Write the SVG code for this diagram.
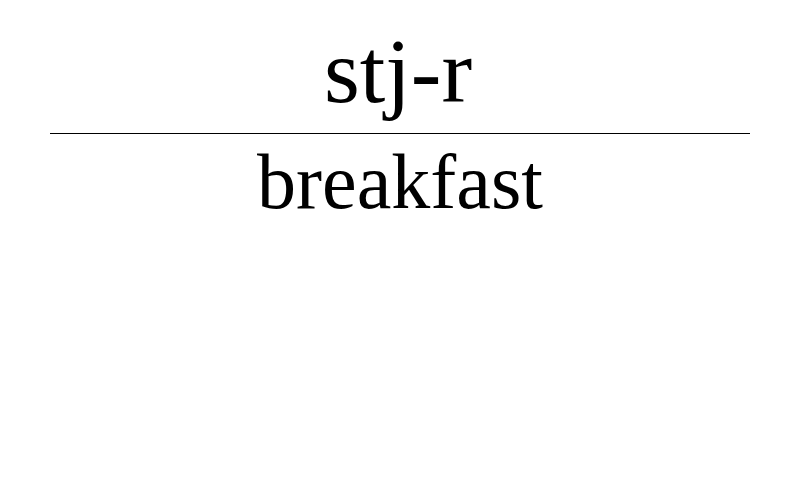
<svg xmlns="http://www.w3.org/2000/svg" width="800" height="500" viewBox="0 0 800 500">
<style>
.t{font-family:"Liberation Serif","DejaVu Serif",serif;fill:#000;text-anchor:middle}
</style>
<rect width="800" height="500" fill="#fff"/>
<g id="top"><text class="t" x="398" y="102" font-size="92">stj-r</text></g>
<g id="connectors"><line x1="50" y1="133.5" x2="750" y2="133.5" stroke="#000" stroke-width="1"/></g>
<g id="bottom"><text class="t" x="400" y="208" font-size="78">breakfast</text></g>
</svg>
